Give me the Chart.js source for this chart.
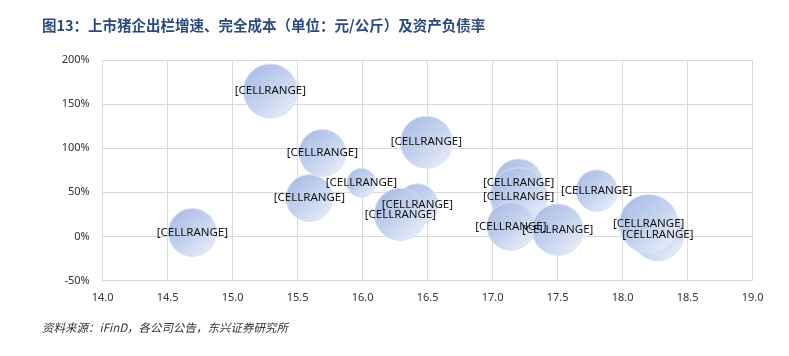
<!DOCTYPE html>
<html>
<head>
<meta charset="utf-8">
<script src="https://cdn.jsdelivr.net/npm/chart.js@4.4.1/dist/chart.umd.min.js"></script>
<style>
  html, body { margin: 0; padding: 0; background: #ffffff; }
  #wrap { position: relative; width: 789px; height: 356px; overflow: hidden; background: #fff; }
  #c { position: absolute; left: 0; top: 0; }
  #title { position: absolute; left: 42px; top: 15px; line-height: 20px; font-family: "Noto Sans CJK SC", sans-serif; font-weight: bold; font-size: 14.5px; color: #2b4a7e; white-space: nowrap; }
  #source { position: absolute; left: 42px; top: 318px; line-height: 18px; font-family: "Noto Sans CJK SC", sans-serif; font-style: italic; font-size: 11.5px; color: #333; white-space: nowrap; }
</style>
</head>
<body>
<div id="wrap">
  <canvas id="c" width="789" height="356"></canvas>
  <div id="title">图13：上市猪企出栏增速、完全成本（单位：元/公斤）及资产负债率</div>
  <div id="source">资料来源：iFinD，各公司公告，东兴证券研究所</div>
</div>
<script>
// 完全成本（元/公斤）
const costValues   = [14.69, 15.29, 15.69, 15.59, 15.99, 16.49, 16.42, 16.29, 17.20, 17.20, 17.14, 17.50, 17.80, 18.27, 18.20];
// 出栏增速（%）
const growthValues = [4.5, 164.8, 94.7, 43.5, 60.8, 106.8, 36.4, 25.0, 60.6, 45.5, 11.4, 7.6, 51.9, 1.9, 14.0];
// 资产负债率（气泡大小，%）
const debtRatios   = [63, 80, 60, 60, 23, 74, 46, 75, 63, 89, 63, 72, 47, 74, 95];
const pointLabels  = costValues.map(() => '[CELLRANGE]');
const xTicks = [14.0, 14.5, 15.0, 15.5, 16.0, 16.5, 17.0, 17.5, 18.0, 18.5, 19.0];
const yTicks = [-50, 0, 50, 100, 150, 200];

const bubbleScale = 3.02;
const points = costValues.map((x, i) => ({ x: x, y: growthValues[i], r: bubbleScale * Math.sqrt(debtRatios[i]) }));

function bubbleFill(ctx) {
  const base = '#c5d3ef';
  if (ctx.type !== 'data') return base;
  const chart = ctx.chart;
  const sx = chart.scales && chart.scales.x;
  const sy = chart.scales && chart.scales.y;
  if (!sx || !sy || !chart.chartArea) return base;
  const raw = ctx.raw;
  const px = sx.getPixelForValue(raw.x);
  const py = sy.getPixelForValue(raw.y);
  const r = raw.r;
  if (!isFinite(px) || !isFinite(py)) return base;
  const g = chart.ctx.createLinearGradient(px - r * 0.75, py - r * 0.75, px + r * 0.75, py + r * 0.75);
  g.addColorStop(0, '#adbfe7');
  g.addColorStop(0.5, '#c4d2ee');
  g.addColorStop(1, '#e5ebf7');
  return g;
}

const labelPlugin = {
  id: 'cellLabels',
  afterDatasetsDraw(chart) {
    const c = chart.ctx;
    const meta = chart.getDatasetMeta(0);
    c.save();
    c.font = '11.5px "Noto Sans", sans-serif';
    c.fillStyle = '#111';
    c.textAlign = 'center';
    c.textBaseline = 'middle';
    meta.data.forEach((el, i) => {
      c.fillText(pointLabels[i], el.x, el.y);
    });
    c.restore();
  }
};

new Chart(document.getElementById('c'), {
  type: 'bubble',
  data: {
    datasets: [{
      data: points,
      backgroundColor: bubbleFill,
      borderColor: 'rgba(214,223,243,0.95)',
      borderWidth: 1,
      hoverRadius: 0
    }]
  },
  options: {
    responsive: false,
    animation: false,
    events: [],
    layout: { padding: { left: 0, right: 36.3, top: 60, bottom: 0 } },
    plugins: { legend: { display: false }, tooltip: { enabled: false }, title: { display: false } },
    scales: {
      x: {
        type: 'linear',
        min: 14, max: 19,
        afterBuildTicks: (s) => { s.ticks = xTicks.map(v => ({ value: v })); },
        afterFit: (s) => { s.height = 75.5; },
        grid: { color: '#d9d9d9', drawTicks: false, lineWidth: 1 },
        border: { display: true, color: '#d9d9d9' },
        ticks: {
          padding: 11,
          color: '#333',
          font: { family: '"Noto Sans", sans-serif', size: 11 },
          callback: (v) => Number(v).toFixed(1),
          maxRotation: 0
        }
      },
      y: {
        type: 'linear',
        min: -50, max: 200,
        afterBuildTicks: (s) => { s.ticks = yTicks.map(v => ({ value: v })); },
        afterFit: (s) => { s.width = 102.7; },
        grid: { color: '#d9d9d9', drawTicks: false, lineWidth: 1 },
        border: { display: true, color: '#d9d9d9' },
        ticks: {
          padding: 13,
          color: '#333',
          font: { family: '"Noto Sans", sans-serif', size: 11 },
          callback: (v) => v + '%'
        }
      }
    }
  },
  plugins: [labelPlugin]
});
</script>
</body>
</html>
